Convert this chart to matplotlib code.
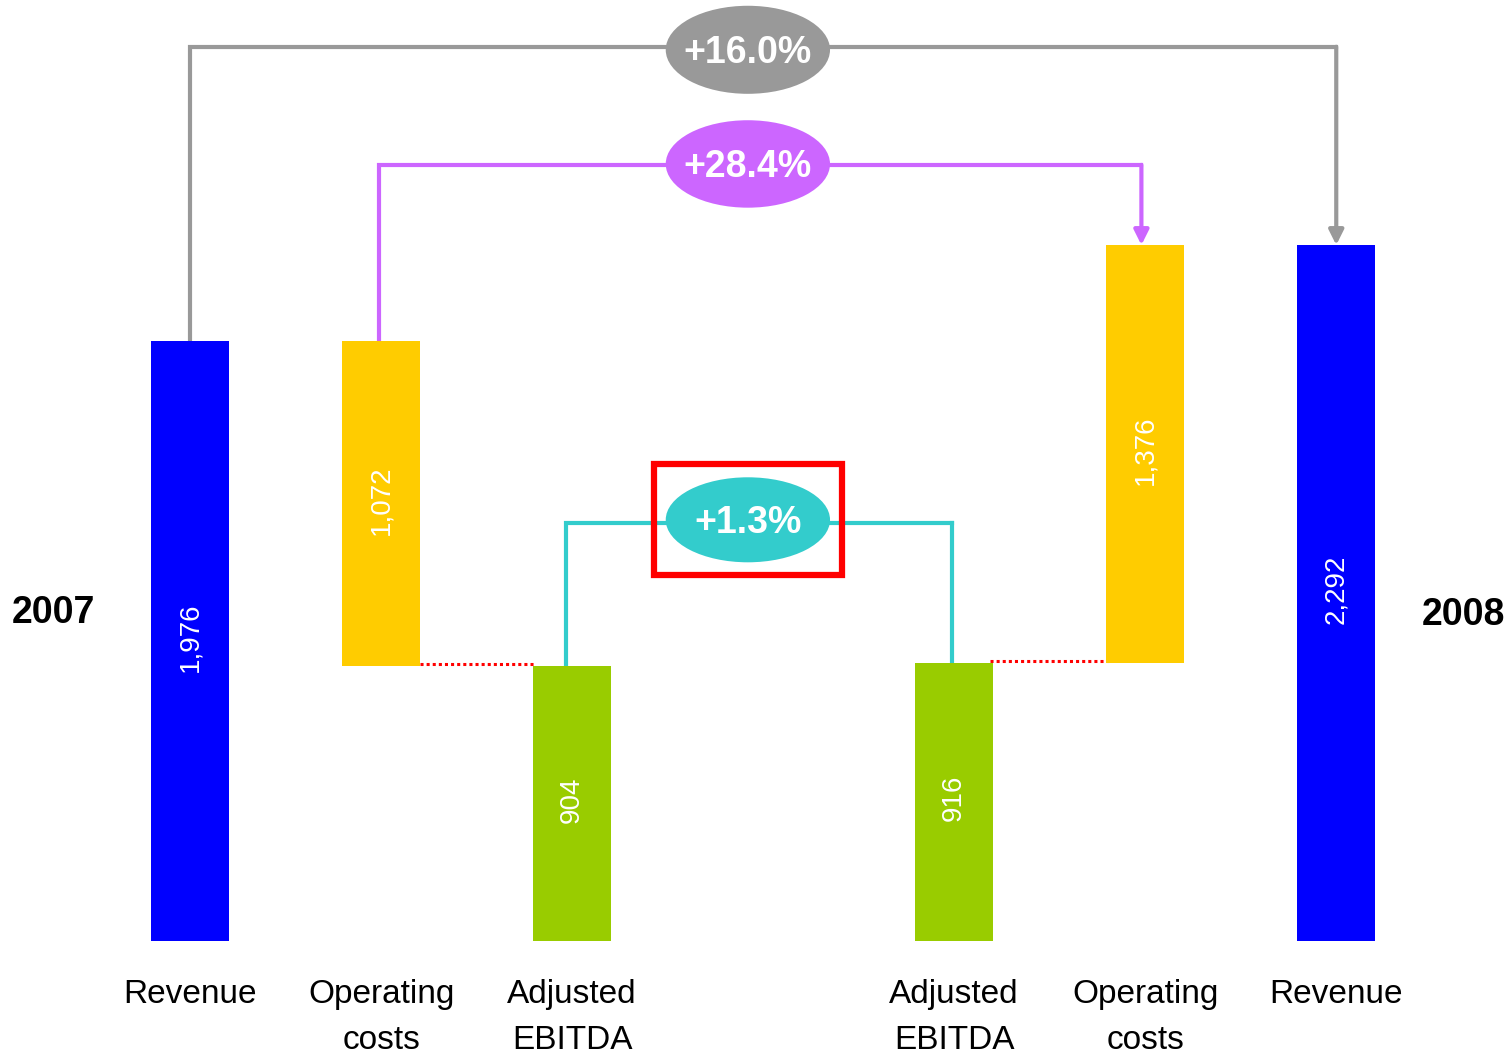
import matplotlib
matplotlib.use('Agg')
import matplotlib.pyplot as plt
from matplotlib.patches import Ellipse, Rectangle
import numpy as np

plt.rcParams['font.family'] = ['Liberation Sans', 'DejaVu Sans']

# data
categories = ['Revenue', 'Operating\ncosts', 'Adjusted\nEBITDA',
              'Adjusted\nEBITDA', 'Operating\ncosts', 'Revenue']
positions = [0, 1, 2, 4, 5, 6]
heights = [1976, 1072, 904, 916, 1376, 2292]
bottoms = [0, 904, 0, 0, 916, 0]
value_labels = ['1,976', '1,072', '904', '916', '1,376', '2,292']
years = ['2007', '2008']
changes = ['+16.0%', '+28.4%', '+1.3%']

blue = '#0000FF'
yellow = '#FFCC00'
green = '#99CC00'
grey = '#999999'
purple = '#CC66FF'
cyan = '#33CCCC'
red = '#FF0000'
bar_colors = [blue, yellow, green, green, yellow, blue]

fig = plt.figure(figsize=(15.12, 10.56), dpi=100)
ax = fig.add_axes([0, 0, 1, 1])
ax.set_xlim(-0.995, 6.92)
ax.set_ylim(-379, 3099)
ax.axis('off')

ax.bar(positions, heights, bottom=bottoms, width=0.41, color=bar_colors, zorder=2)

for x, h, b, lab in zip(positions, heights, bottoms, value_labels):
    ax.text(x, b + h / 2 + 12, lab, rotation=90, ha='center', va='center',
            color='white', fontsize=20, zorder=3)

for x, lab in zip(positions, categories):
    ax.text(x, -127, lab, ha='center', va='top', fontsize=24, linespacing=1.6)

ax.text(-0.717, 1080, years[0], ha='center', va='center', fontsize=27, fontweight='bold')
ax.text(6.665, 1074, years[1], ha='center', va='center', fontsize=27, fontweight='bold')

# dotted links between cost bars and EBITDA bars
ax.plot([1.205, 1.81], [heights[2] + 8, heights[2] + 8], color=red, lw=2.2,
        linestyle=(0, (1, 1)), zorder=1)
ax.plot([4.19, 4.81], [heights[3] + 6, heights[3] + 6], color=red, lw=2.2,
        linestyle=(0, (1, 1)), zorder=1)


def connector(x0, y0, x1, y1, level, color, arrow):
    ax.plot([x0, x0, x1], [y0, level, level], color=color, lw=3, zorder=1,
            solid_joinstyle='miter')
    if arrow:
        ax.annotate('', xy=(x1, y1), xytext=(x1, level),
                    arrowprops=dict(arrowstyle='-|>', color=color, lw=3,
                                    mutation_scale=22, shrinkA=0, shrinkB=0),
                    zorder=1)
    else:
        ax.plot([x1, x1], [level, y1], color=color, lw=3, zorder=1)


connector(0, 1962, 6, 2292, 2945, grey, True)
connector(0.99, 1962, 4.98, 2292, 2556, purple, True)
connector(1.97, 904, 3.99, 916, 1377, cyan, False)

cx = 2.92
for cy, h, col, txt in [(2935, 290, grey, changes[0]),
                        (2559, 288, purple, changes[1]),
                        (1387, 280, cyan, changes[2])]:
    ax.add_patch(Ellipse((cx, cy), 0.86, h, facecolor=col, edgecolor='none', zorder=4))
    ax.text(cx, cy - 10, txt, ha='center', va='center', color='white',
            fontsize=27, fontweight='bold', zorder=5)

ax.add_patch(Rectangle((2.43, 1206), 0.985, 365, facecolor='none',
                       edgecolor=red, lw=4.5, zorder=6))

fig.savefig('out.png', dpi=100)
